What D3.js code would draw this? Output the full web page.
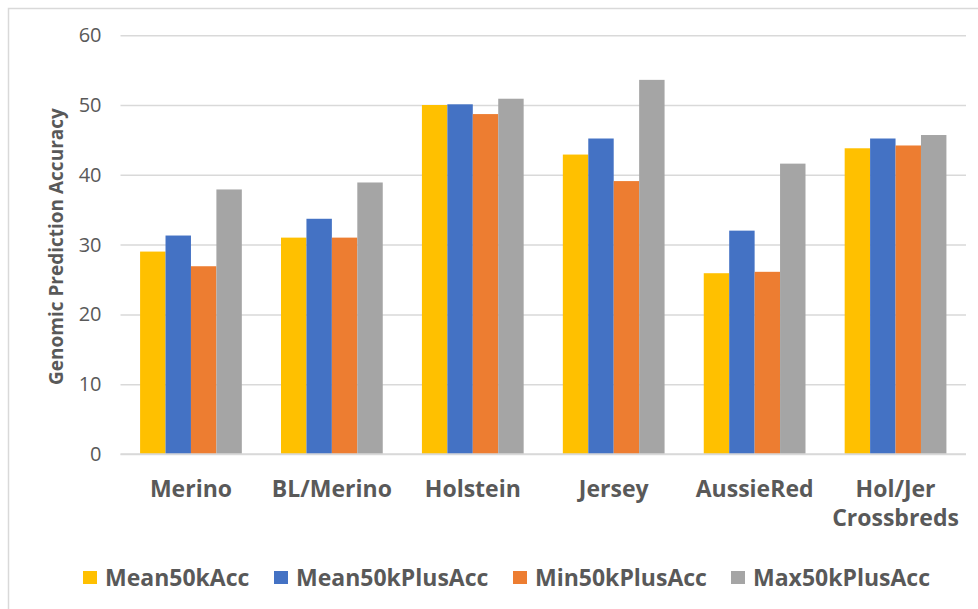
<!DOCTYPE html>
<html>
<head>
<meta charset="utf-8">
<script src="https://cdn.jsdelivr.net/npm/d3@7"></script>
<style>
  html, body { margin: 0; padding: 0; background: #fff; }
  svg { display: block; }
  text { font-family: "Open Sans", Lato, "Liberation Sans", sans-serif; }
</style>
</head>
<body>
<svg id="chart" width="978" height="609"></svg>
<script>
// Breeds / groups on the x axis
const categories = ["Merino", "BL/Merino", "Holstein", "Jersey", "AussieRed", "Hol/Jer Crossbreds"];

// Series values (accuracy, %)
const mean50kAcc     = [29, 31, 50, 42.9, 25.9, 43.8];
const mean50kPlusAcc = [31.3, 33.7, 50.1, 45.2, 32.0, 45.2];
const min50kPlusAcc  = [26.9, 31, 48.7, 39.1, 26.1, 44.2];
const max50kPlusAcc  = [37.9, 38.9, 50.9, 53.6, 41.6, 45.7];

const seriesNames = ["Mean50kAcc", "Mean50kPlusAcc", "Min50kPlusAcc", "Max50kPlusAcc"];
const seriesColors = ["#FFC000", "#4472C4", "#ED7D31", "#A5A5A5"];
const yTicks = [0, 10, 20, 30, 40, 50, 60];

const series = [mean50kAcc, mean50kPlusAcc, min50kPlusAcc, max50kPlusAcc];

const svg = d3.select("#chart");
const textColor = "#595959";
const gridColor = "#D9D9D9";
const fontStack = "'Open Sans', Lato, sans-serif";

// Chart frame
svg.append("rect")
  .attr("x", 8.5).attr("y", 8.5)
  .attr("width", 1100).attr("height", 800)
  .attr("fill", "none").attr("stroke", "#D9D9D9").attr("stroke-width", 1.5);

const plot = { left: 120.5, right: 966, top: 35.2, bottom: 454 };

const x = d3.scaleBand()
  .domain(categories)
  .range([plot.left, plot.right])
  .paddingInner(0.278)
  .paddingOuter(0.139);

const x1 = d3.scaleBand()
  .domain(seriesNames)
  .range([0, x.bandwidth()])
  .padding(0);

const y = d3.scaleLinear().domain([0, 60]).range([plot.bottom, plot.top]);

// Gridlines and y tick labels
const yAxis = d3.axisLeft(y).tickValues(yTicks).tickSize(-(plot.right - plot.left)).tickPadding(19);
const gy = svg.append("g").attr("transform", `translate(${plot.left},0)`).call(yAxis);
gy.select(".domain").remove();
gy.selectAll(".tick line").attr("stroke", gridColor).attr("stroke-width", 1.5);
gy.selectAll(".tick text")
  .attr("fill", textColor)
  .style("font-size", "20px")
  .style("font-family", fontStack);

// Bars
const groups = svg.append("g").selectAll("g")
  .data(categories)
  .join("g")
  .attr("transform", d => `translate(${x(d)},0)`);

groups.selectAll("rect")
  .data((c, i) => seriesNames.map((s, k) => ({ s, k, v: series[k][i] })))
  .join("rect")
  .attr("x", d => x1(d.s))
  .attr("width", x1.bandwidth())
  .attr("y", d => y(d.v))
  .attr("height", d => y(0) - y(d.v))
  .attr("fill", d => seriesColors[d.k]);

// Baseline
svg.append("line")
  .attr("x1", plot.left).attr("x2", plot.right)
  .attr("y1", y(0)).attr("y2", y(0))
  .attr("stroke", gridColor).attr("stroke-width", 1.5);

// Category labels
const xAxis = d3.axisBottom(x).tickSize(0).tickPadding(0);
const gx = svg.append("g").attr("transform", `translate(0,${plot.bottom})`).call(xAxis);
gx.select(".domain").remove();
gx.selectAll(".tick text").each(function(d) {
  const t = d3.select(this);
  t.text(null)
    .attr("fill", textColor)
    .style("font-size", "23px")
    .style("font-weight", "bold")
    .style("font-family", fontStack)
    .attr("y", 43)
    .attr("dy", 0);
  const parts = d === "Hol/Jer Crossbreds" ? ["Hol/Jer", "Crossbreds"] : [d];
  parts.forEach((p, i) => {
    t.append("tspan").attr("x", 0).attr("dy", i === 0 ? 0 : 29).text(p);
  });
});

// Y axis title
svg.append("text")
  .attr("transform", `translate(63,${(plot.top + plot.bottom) / 2 + 2}) rotate(-90)`)
  .attr("text-anchor", "middle")
  .attr("fill", textColor)
  .style("font-size", "19px")
  .style("font-weight", "bold")
  .text("Genomic Prediction Accuracy");

// Legend
const legendX = [83, 274, 513, 731];
const legend = svg.append("g").selectAll("g")
  .data(seriesNames)
  .join("g")
  .attr("transform", (d, i) => `translate(${legendX[i]},578)`);
legend.append("rect")
  .attr("x", 0).attr("y", -7)
  .attr("width", 14).attr("height", 13)
  .attr("fill", (d, i) => seriesColors[i]);
legend.append("text")
  .attr("x", 22).attr("y", 8)
  .attr("fill", textColor)
  .style("font-size", "23px")
  .style("font-weight", "bold")
  .text(d => d);
</script>
</body>
</html>
